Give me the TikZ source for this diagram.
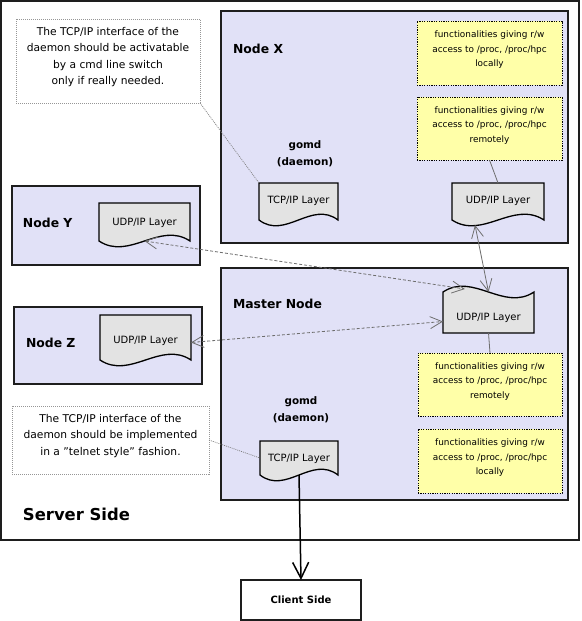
\documentclass[tikz,border=0pt]{standalone}
\usepackage{fontspec}
\setmainfont{DejaVu Sans}
\usetikzlibrary{arrows.meta,calc,fit}
\definecolor{nodefill}{RGB}{225,225,247}
\definecolor{docfill}{RGB}{227,227,227}
\definecolor{yel}{RGB}{255,255,168}
\definecolor{edgec}{RGB}{30,30,30}
\definecolor{conngray}{RGB}{110,110,110}
\definecolor{notegray}{RGB}{150,150,150}
\newcommand\docpath[1]{%
  \draw[docline] (#1.north west) -- (#1.north east) -- (#1.south east)
    .. controls ($(#1.south east)!1/3!(#1.south west)+(0,-20)$) and ($(#1.south east)!2/3!(#1.south west)+(0,20)$) .. (#1.south west) -- cycle;}
\newcommand\docflip[1]{%
  \draw[docline] (#1.south west) -- (#1.south east) -- (#1.north east)
    .. controls ($(#1.north east)!1/3!(#1.north west)+(0,20)$) and ($(#1.north east)!2/3!(#1.north west)+(0,-20)$) .. (#1.north west) -- cycle;}
\begin{document}
\begin{tikzpicture}[x=1pt,y=-1pt,
  every node/.style={inner sep=0pt, outer sep=0pt},
  outerbox/.style={draw=edgec, line width=1.4pt, fill=white},
  sysbox/.style={draw=edgec, line width=1.4pt, fill=nodefill},
  yelbox/.style={draw=black, line width=1pt, dash pattern=on 1.2pt off 1.2pt, fill=yel, align=center, font=\fontsize{8.9}{14.5}\selectfont},
  notebox/.style={draw=notegray, line width=0.8pt, dash pattern=on 1pt off 1pt, fill=white, align=center, font=\fontsize{10.7}{16.3}\selectfont},
  docline/.style={draw=black, line width=1.3pt, fill=docfill},
  doctext/.style={font=\fontsize{10}{12}\selectfont},
  lbl/.style={font=\fontsize{12.4}{15}\selectfont\bfseries, anchor=base west},
  daemon/.style={font=\fontsize{10.4}{17}\selectfont\bfseries, align=center},
  conn/.style={draw=conngray, line width=0.8pt},
  dashconn/.style={conn, dash pattern=on 3pt off 2pt},
  biarrow/.style={{Straight Barb[length=12pt,width=12pt]}-{Straight Barb[length=12pt,width=12pt]}},
  leader/.style={draw=gray, line width=0.7pt, dash pattern=on 1pt off 1pt}]
\useasboundingbox (0,0) rectangle (581,621);

% server side
\node[outerbox, fit={(1,1)(579,540)}] (server) {};
\node[font=\fontsize{16.4}{19}\selectfont\bfseries, anchor=base west] (serverlbl) at (23,520) {Server Side};

% system boxes
\node[sysbox, fit={(221,11)(568,243)}] (nodex) {};
\node[sysbox, fit={(12,186)(200,265)}] (nodey) {};
\node[sysbox, fit={(14,307)(202,384)}] (nodez) {};
\node[sysbox, fit={(221,268)(568,500)}] (master) {};

\node[lbl] (nodexlbl) at (233,53) {Node X};
\node[lbl] (nodeylbl) at (23,227) {Node Y};
\node[lbl] (nodezlbl) at (26,347) {Node Z};
\node[lbl] (masterlbl) at (233,308) {Master Node};

\node[daemon] (xdaemon) at (305,154) {gomd\\(daemon)};
\node[daemon] (mdaemon) at (301,410) {gomd\\(daemon)};

% yellow functionality boxes
\node[yelbox, fit={(417,21)(562,85)}] (xloc) {functionalities giving r/w\\access to /proc, /proc/hpc\\locally};
\node[yelbox, fit={(417,97)(562,160)}] (xrem) {functionalities giving r/w\\access to /proc, /proc/hpc\\remotely};
\node[yelbox, fit={(418,353)(562,416)}] (mrem) {functionalities giving r/w\\access to /proc, /proc/hpc\\remotely};
\node[yelbox, fit={(418,429)(562,493)}] (mloc) {functionalities giving r/w\\access to /proc, /proc/hpc\\locally};

% notes
\node[notebox, fit={(16,19)(200,103)}] (note1) {The TCP/IP interface of the\\daemon should be activatable\\by a cmd line switch\\only if really needed.};
\node[notebox, fit={(12,406)(209,474)}] (note2) {The TCP/IP interface of the\\daemon should be implemented\\in a \symbol{34}telnet style\symbol{34} fashion.};

% document shapes
\node[fit={(259,183)(338,220)}] (xtcp) {};
\docpath{xtcp}
\node[doctext] (xtcpt) at ([yshift=1pt]xtcp.center) {TCP/IP Layer};

\node[fit={(452,183)(544,220)}] (xudp) {};
\docpath{xudp}
\node[doctext] (xudpt) at ([yshift=1pt]xudp.center) {UDP/IP Layer};

\node[fit={(99,203)(190,241)}] (yudp) {};
\docpath{yudp}
\node[doctext] (yudpt) at ([yshift=-1pt]yudp.center) {UDP/IP Layer};

\node[fit={(100,315)(191,360)}] (zudp) {};
\docpath{zudp}
\node[doctext] (zudpt) at ([yshift=-3pt]zudp.center) {UDP/IP Layer};

\node[fit={(443,292)(534,333)}] (mudp) {};
\docflip{mudp}
\node[doctext] (mudpt) at ([yshift=-5pt]mudp.center) {UDP/IP Layer};

\node[fit={(260,441)(338,475)}] (mtcp) {};
\docpath{mtcp}
\node[doctext] (mtcpt) at ([yshift=-1pt]mtcp.center) {TCP/IP Layer};

% client
\node[draw=edgec, line width=1.4pt, fill=white, minimum width=120pt, minimum height=40pt,
      font=\fontsize{10}{12}\selectfont\bfseries] (client) at (301,600) {Client Side};

% coordinates for connector ends
\coordinate (mudpY) at ($(mudp.north west)!0.24!(mudp.north east)+(0,-3)$);
\coordinate (xudpB) at ($(xudp.south west)!0.25!(xudp.south east)+(0,5)$);
\coordinate (zudpR) at ([yshift=-5pt]zudp.east);
\coordinate (mudpL) at ([yshift=-9pt]mudp.west);

% connectors
\draw[leader] (note1.south east) -- (xtcp.north west);
\draw[leader] (note2.east) -- (mtcp.west);
\draw[conn] (xrem.south) -- (xudp.north);
\draw[conn] (mudp.south) -- (mrem.north);
\draw[conn, biarrow] (xudpB) -- (mudp.north);
\draw[dashconn, biarrow] (yudp.south) -- (mudpY);
\draw[dashconn, biarrow] (zudpR) -- (mudpL);
\draw[line width=1.5pt, draw=black, -{Straight Barb[length=16pt,width=16pt]}] (mtcp.south) -- (client.north);
\end{tikzpicture}
\end{document}
